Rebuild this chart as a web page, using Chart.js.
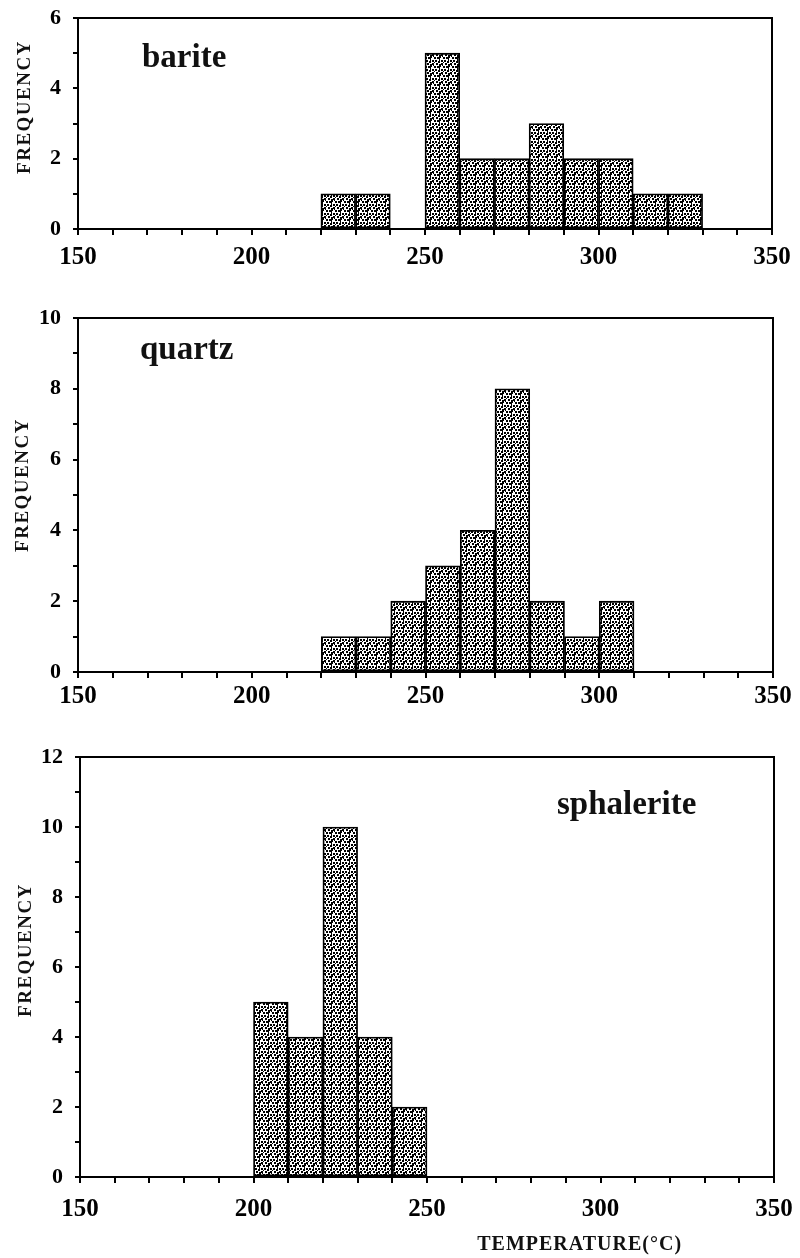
<!DOCTYPE html>
<html>
<head>
<meta charset="utf-8">
<script src="https://cdn.jsdelivr.net/npm/chart.js@4.4.1/dist/chart.umd.min.js"></script>
<style>
  body { margin:0; background:#fff; width:800px; height:1258px; position:relative; overflow:hidden; }
  .panel { position:absolute; left:0; width:800px; }
</style>
</head>
<body>
<div class="panel" style="top:0;height:280px"><canvas id="bariteC"></canvas></div>
<div class="panel" style="top:300px;height:420px"><canvas id="quartzC"></canvas></div>
<div class="panel" style="top:739px;height:519px"><canvas id="sphalC"></canvas></div>
<script>
// histogram data, bins are 10 degC wide, x = bin centre
const xLabelled = [150, 200, 250, 300, 350];
const bariteBins = [225, 235, 255, 265, 275, 285, 295, 305, 315, 325];
const bariteCounts = [1, 1, 5, 2, 2, 3, 2, 2, 1, 1];
const quartzBins = [225, 235, 245, 255, 265, 275, 285, 295, 305];
const quartzCounts = [1, 1, 2, 3, 4, 8, 2, 1, 2];
const sphalBins = [205, 215, 225, 235, 245];
const sphalCounts = [5, 4, 10, 4, 2];

const SERIF = '"Liberation Serif", "Times New Roman", serif';

// stipple fill like the scanned figure (small dark dashes)
function stipple() {
  const c = document.createElement('canvas');
  c.width = 9; c.height = 9;
  const g = c.getContext('2d');
  g.fillStyle = '#fff'; g.fillRect(0, 0, 9, 9);
  g.fillStyle = '#000';
  [[0,0,2,2],[4,0,2,2],[7,1,2,2],[2,3,2,2],[5,3,3,2],[0,6,2,2],[3,6,2,2],[7,5,1,2],[6,7,2,2],[8,3,1,1],[1,2,1,1],[2,8,1,1]]
    .forEach(r => g.fillRect(r[0], r[1], r[2], r[3]));
  return g.createPattern(c, 'repeat');
}

const decor = {
  id: 'decor',
  afterDraw(chart, args, o) {
    const { ctx, chartArea: a } = chart;
    ctx.save();
    ctx.strokeStyle = '#000'; ctx.lineWidth = 2;
    ctx.strokeRect(a.left, a.top, a.right - a.left, a.bottom - a.top);
    ctx.fillStyle = '#111';
    ctx.textAlign = 'left'; ctx.textBaseline = 'alphabetic';
    ctx.font = 'bold 33px ' + SERIF;
    ctx.fillText(o.name, o.nameX, o.nameY);
    ctx.save();
    ctx.translate(o.freqX, o.freqY);
    ctx.rotate(-Math.PI / 2);
    ctx.font = 'bold 19px ' + SERIF;
    ctx.letterSpacing = '1.5px';
    ctx.textAlign = 'center'; ctx.textBaseline = 'middle';
    ctx.fillText('FREQUENCY', 0, 0);
    ctx.restore();
    if (o.xTitle) {
      ctx.font = 'bold 20px ' + SERIF;
      ctx.letterSpacing = '1px';
      ctx.textAlign = 'center'; ctx.textBaseline = 'middle';
      ctx.fillText(o.xTitle, chart.scales.x.getPixelForValue(o.xTitleAt), o.xTitleY);
    }
    ctx.restore();
  }
};

function hist(id, bins, counts, ymax, lay) {
  const ctx = document.getElementById(id);
  return new Chart(ctx, {
    type: 'bar',
    data: { datasets: [{
      data: bins.map((b, i) => ({ x: b, y: counts[i] })),
      backgroundColor: stipple(), borderColor: '#000', borderWidth: 1.8,
      barPercentage: 1, categoryPercentage: 1, borderSkipped: false
    }]},
    options: {
      responsive: true, maintainAspectRatio: false, animation: false,
      layout: { padding: { top: lay.top, right: 800 - lay.right, left: 0, bottom: 0 } },
      plugins: { legend: { display: false }, tooltip: { enabled: false }, decor: lay.decor },
      scales: {
        x: { type: 'linear', min: 150, max: 350, offset: false,
          ticks: { stepSize: 10, autoSkip: false, maxRotation: 0, padding: lay.xPad, color: '#000',
            font: { family: SERIF, weight: 'bold', size: 25 },
            callback: v => xLabelled.includes(v) ? v : '' },
          grid: { offset: false, drawOnChartArea: false, drawTicks: true, tickLength: 6, color: '#000', lineWidth: 2 },
          border: { color: '#000', width: 2 },
          afterFit: s => { s.height = lay.xH; s.paddingLeft = 0; s.paddingRight = 0; } },
        y: { min: 0, max: ymax,
          ticks: { stepSize: 1, padding: 12, color: '#000',
            font: { family: SERIF, weight: 'bold', size: 22 },
            callback: v => v % 2 === 0 ? v : '' },
          grid: { drawOnChartArea: false, drawTicks: true, tickLength: 5, color: '#000', lineWidth: 2 },
          border: { color: '#000', width: 2 },
          afterFit: s => { s.width = lay.left; s.paddingTop = 0; s.paddingBottom = 0; } }
      }
    },
    plugins: [decor]
  });
}

hist('bariteC', bariteBins, bariteCounts, 6, {
  top: 18, left: 78, right: 772, xH: 51, xPad: 8,
  decor: { name: 'barite', nameX: 142, nameY: 67, freqX: 25, freqY: 107 }
});
hist('quartzC', quartzBins, quartzCounts, 10, {
  top: 18, left: 78, right: 773, xH: 48, xPad: 4,
  decor: { name: 'quartz', nameX: 140, nameY: 59, freqX: 23, freqY: 185 }
});
hist('sphalC', sphalBins, sphalCounts, 12, {
  top: 18, left: 80, right: 774, xH: 81, xPad: 12,
  decor: { name: 'sphalerite', nameX: 557, nameY: 75, freqX: 26, freqY: 211,
    xTitle: 'TEMPERATURE(\u00B0C)', xTitleAt: 294, xTitleY: 506 }
});
</script>
</body>
</html>
